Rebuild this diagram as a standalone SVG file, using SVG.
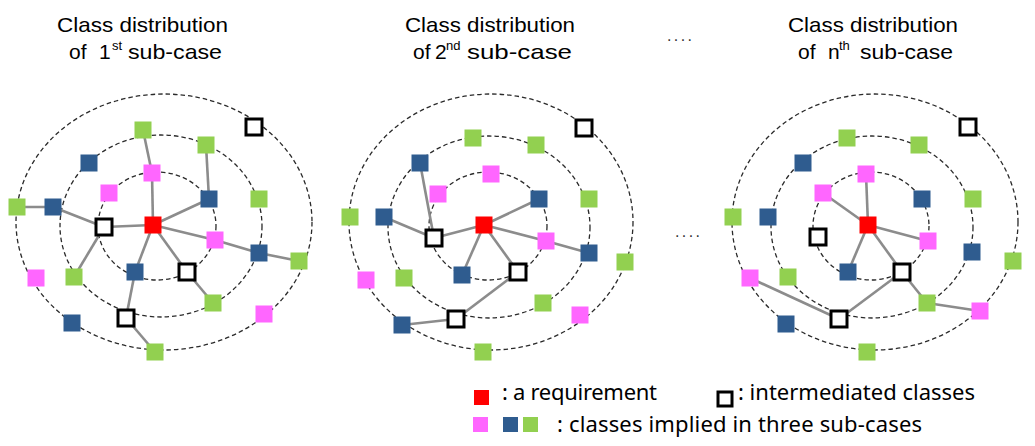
<svg xmlns="http://www.w3.org/2000/svg" width="1035" height="446" viewBox="0 0 1035 446">
  <style>
    .ring { fill: none; stroke: #2a2a2a; stroke-width: 1.3; stroke-dasharray: 4.5 3; }
    .edge { stroke: #8c8c8c; stroke-width: 2.6; fill: none; }
    .req { fill: #ff0000; }
    .pk { fill: #ff66ff; }
    .bl { fill: #2f5c8f; }
    .gr { fill: #92d050; }
    .im { fill: #ffffff; stroke: #000; stroke-width: 3; }
    .title { font-family: "Liberation Sans", Arial, sans-serif; font-size: 21px; fill: #000; }
    .sup { font-family: "Liberation Sans", Arial, sans-serif; font-size: 13px; fill: #000; }
    .legend { font-family: "Noto Sans", "Liberation Sans", sans-serif; font-size: 22px; fill: #000; }
    .dots { font-family: "Liberation Sans", Arial, sans-serif; font-size: 16px; fill: #333; }
  </style>

  <!-- titles -->
  <g id="titles">
    <text class="title" x="57" y="32" textLength="171" lengthAdjust="spacingAndGlyphs">Class distribution</text>
    <text class="title" x="69" y="59">of</text>
    <text class="title" x="99" y="59">1</text>
    <text class="sup" x="112" y="50">st</text>
    <text class="title" x="128" y="59" textLength="94" lengthAdjust="spacingAndGlyphs">sub-case</text>

    <text class="title" x="405" y="32" textLength="170" lengthAdjust="spacingAndGlyphs">Class distribution</text>
    <text class="title" x="413" y="59">of</text>
    <text class="title" x="435" y="59">2</text>
    <text class="sup" x="446" y="50">nd</text>
    <text class="title" x="467" y="59" textLength="105" lengthAdjust="spacingAndGlyphs">sub-case</text>

    <text class="title" x="788" y="32" textLength="170" lengthAdjust="spacingAndGlyphs">Class distribution</text>
    <text class="title" x="798" y="59">of</text>
    <text class="title" x="828" y="59">n</text>
    <text class="sup" x="839" y="50">th</text>
    <text class="title" x="860" y="59" textLength="93" lengthAdjust="spacingAndGlyphs">sub-case</text>

    <text class="dots" x="667" y="41" textLength="25" lengthAdjust="spacing">....</text>
    <text class="dots" x="675" y="237" textLength="25" lengthAdjust="spacing">....</text>
  </g>

  <!-- dashed rings -->
  <g id="rings">
    <ellipse class="ring" cx="164" cy="222" rx="148" ry="128"/>
    <ellipse class="ring" cx="161" cy="226" rx="101" ry="91"/>
    <ellipse class="ring" cx="157" cy="226" rx="59" ry="54"/>

    <ellipse class="ring" cx="491" cy="222" rx="142" ry="128"/>
    <ellipse class="ring" cx="489" cy="227" rx="101" ry="91"/>
    <ellipse class="ring" cx="488" cy="226" rx="59" ry="54"/>

    <ellipse class="ring" cx="875" cy="222" rx="143" ry="128"/>
    <ellipse class="ring" cx="872" cy="227" rx="101" ry="91"/>
    <ellipse class="ring" cx="871" cy="226" rx="58" ry="54"/>
  </g>

  <!-- connectors -->
  <g id="connectors">
    <!-- first sub-case -->
    <line class="edge" x1="143" y1="130" x2="152" y2="173"/>
    <line class="edge" x1="152" y1="173" x2="153" y2="225"/>
    <line class="edge" x1="206" y1="145" x2="209" y2="199"/>
    <line class="edge" x1="209" y1="199" x2="153" y2="225"/>
    <line class="edge" x1="17" y1="207" x2="53" y2="207"/>
    <line class="edge" x1="53" y1="207" x2="104" y2="227"/>
    <line class="edge" x1="104" y1="227" x2="153" y2="225"/>
    <line class="edge" x1="104" y1="227" x2="74" y2="277"/>
    <line class="edge" x1="153" y1="225" x2="215" y2="240"/>
    <line class="edge" x1="215" y1="240" x2="259" y2="253"/>
    <line class="edge" x1="259" y1="253" x2="299" y2="261"/>
    <line class="edge" x1="153" y1="225" x2="135" y2="272"/>
    <line class="edge" x1="153" y1="225" x2="187" y2="272"/>
    <line class="edge" x1="187" y1="272" x2="213" y2="303"/>
    <line class="edge" x1="135" y1="272" x2="126" y2="318"/>
    <line class="edge" x1="126" y1="318" x2="155" y2="352"/>
    <!-- second sub-case -->
    <line class="edge" x1="420" y1="163" x2="434" y2="238"/>
    <line class="edge" x1="384" y1="217" x2="434" y2="238"/>
    <line class="edge" x1="434" y1="238" x2="484" y2="225"/>
    <line class="edge" x1="484" y1="225" x2="539" y2="199"/>
    <line class="edge" x1="484" y1="225" x2="546" y2="241"/>
    <line class="edge" x1="546" y1="241" x2="589" y2="253"/>
    <line class="edge" x1="484" y1="225" x2="462" y2="275"/>
    <line class="edge" x1="484" y1="225" x2="518" y2="272"/>
    <line class="edge" x1="518" y1="272" x2="456" y2="319"/>
    <line class="edge" x1="456" y1="319" x2="402" y2="325"/>
    <!-- nth sub-case -->
    <line class="edge" x1="866" y1="174" x2="868" y2="225"/>
    <line class="edge" x1="823" y1="193" x2="868" y2="225"/>
    <line class="edge" x1="868" y1="225" x2="928" y2="241"/>
    <line class="edge" x1="868" y1="225" x2="848" y2="272"/>
    <line class="edge" x1="868" y1="225" x2="902" y2="272"/>
    <line class="edge" x1="902" y1="272" x2="839" y2="319"/>
    <line class="edge" x1="902" y1="272" x2="927" y2="303"/>
    <line class="edge" x1="927" y1="303" x2="980" y2="311"/>
    <line class="edge" x1="750" y1="278" x2="839" y2="319"/>
  </g>

  <!-- nodes: first sub-case -->
  <g id="case1">
    <g id="c1-n1"><rect class="gr" x="134.5" y="121.5" width="17" height="17"/></g>
    <g id="c1-n2"><rect class="im" x="246" y="119" width="16" height="16"/></g>
    <g id="c1-n3"><rect class="gr" x="197.5" y="136.5" width="17" height="17"/></g>
    <g id="c1-n4"><rect class="bl" x="80.5" y="154.5" width="17" height="17"/></g>
    <g id="c1-n5"><rect class="pk" x="143.5" y="164.5" width="17" height="17"/></g>
    <g id="c1-n6"><rect class="pk" x="100.5" y="184.5" width="17" height="17"/></g>
    <g id="c1-n7"><rect class="bl" x="200.5" y="190.5" width="17" height="17"/></g>
    <g id="c1-n8"><rect class="gr" x="250.5" y="190.5" width="17" height="17"/></g>
    <g id="c1-n9"><rect class="gr" x="8.5" y="198.5" width="17" height="17"/></g>
    <g id="c1-n10"><rect class="bl" x="44.5" y="198.5" width="17" height="17"/></g>
    <g id="c1-req"><rect class="req" x="144.5" y="216.5" width="17" height="17"/></g>
    <g id="c1-n11"><rect class="im" x="96" y="219" width="16" height="16"/></g>
    <g id="c1-n12"><rect class="pk" x="206.5" y="231.5" width="17" height="17"/></g>
    <g id="c1-n13"><rect class="bl" x="250.5" y="244.5" width="17" height="17"/></g>
    <g id="c1-n14"><rect class="gr" x="290.5" y="252.5" width="17" height="17"/></g>
    <g id="c1-n15"><rect class="pk" x="27.5" y="269.5" width="17" height="17"/></g>
    <g id="c1-n16"><rect class="gr" x="65.5" y="268.5" width="17" height="17"/></g>
    <g id="c1-n17"><rect class="bl" x="126.5" y="263.5" width="17" height="17"/></g>
    <g id="c1-n18"><rect class="im" x="179" y="264" width="16" height="16"/></g>
    <g id="c1-n19"><rect class="gr" x="204.5" y="294.5" width="17" height="17"/></g>
    <g id="c1-n20"><rect class="pk" x="255.5" y="305.5" width="17" height="17"/></g>
    <g id="c1-n21"><rect class="bl" x="63.5" y="314.5" width="17" height="17"/></g>
    <g id="c1-n22"><rect class="im" x="118" y="310" width="16" height="16"/></g>
    <g id="c1-n23"><rect class="gr" x="146.5" y="343.5" width="17" height="17"/></g>
  </g>

  <!-- nodes: second sub-case -->
  <g id="case2">
    <g id="c2-n1"><rect class="im" x="576" y="120" width="16" height="16"/></g>
    <g id="c2-n2"><rect class="gr" x="464.5" y="129.5" width="17" height="17"/></g>
    <g id="c2-n3"><rect class="gr" x="527.5" y="136.5" width="17" height="17"/></g>
    <g id="c2-n4"><rect class="bl" x="411.5" y="154.5" width="17" height="17"/></g>
    <g id="c2-n5"><rect class="pk" x="482.5" y="165.5" width="17" height="17"/></g>
    <g id="c2-n6"><rect class="pk" x="429.5" y="185.5" width="17" height="17"/></g>
    <g id="c2-n7"><rect class="bl" x="530.5" y="190.5" width="17" height="17"/></g>
    <g id="c2-n8"><rect class="gr" x="580.5" y="190.5" width="17" height="17"/></g>
    <g id="c2-n9"><rect class="gr" x="341.5" y="208.5" width="17" height="17"/></g>
    <g id="c2-n10"><rect class="bl" x="375.5" y="208.5" width="17" height="17"/></g>
    <g id="c2-req"><rect class="req" x="475.5" y="216.5" width="17" height="17"/></g>
    <g id="c2-n11"><rect class="im" x="426" y="230" width="16" height="16"/></g>
    <g id="c2-n12"><rect class="pk" x="537.5" y="232.5" width="17" height="17"/></g>
    <g id="c2-n13"><rect class="bl" x="580.5" y="244.5" width="17" height="17"/></g>
    <g id="c2-n14"><rect class="gr" x="616.5" y="253.5" width="17" height="17"/></g>
    <g id="c2-n15"><rect class="pk" x="357.5" y="271.5" width="17" height="17"/></g>
    <g id="c2-n16"><rect class="gr" x="395.5" y="269.5" width="17" height="17"/></g>
    <g id="c2-n17"><rect class="bl" x="453.5" y="266.5" width="17" height="17"/></g>
    <g id="c2-n18"><rect class="im" x="510" y="264" width="16" height="16"/></g>
    <g id="c2-n19"><rect class="gr" x="534.5" y="294.5" width="17" height="17"/></g>
    <g id="c2-n20"><rect class="pk" x="571.5" y="306.5" width="17" height="17"/></g>
    <g id="c2-n21"><rect class="bl" x="393.5" y="316.5" width="17" height="17"/></g>
    <g id="c2-n22"><rect class="im" x="448" y="311" width="16" height="16"/></g>
    <g id="c2-n23"><rect class="gr" x="474.5" y="343.5" width="17" height="17"/></g>
  </g>

  <!-- nodes: nth sub-case -->
  <g id="case3">
    <g id="c3-n1"><rect class="im" x="960" y="119" width="16" height="16"/></g>
    <g id="c3-n2"><rect class="gr" x="838.5" y="129.5" width="17" height="17"/></g>
    <g id="c3-n3"><rect class="gr" x="910.5" y="136.5" width="17" height="17"/></g>
    <g id="c3-n4"><rect class="bl" x="794.5" y="154.5" width="17" height="17"/></g>
    <g id="c3-n5"><rect class="pk" x="857.5" y="165.5" width="17" height="17"/></g>
    <g id="c3-n6"><rect class="pk" x="814.5" y="184.5" width="17" height="17"/></g>
    <g id="c3-n7"><rect class="bl" x="913.5" y="190.5" width="17" height="17"/></g>
    <g id="c3-n8"><rect class="gr" x="964.5" y="190.5" width="17" height="17"/></g>
    <g id="c3-n9"><rect class="gr" x="724.5" y="208.5" width="17" height="17"/></g>
    <g id="c3-n10"><rect class="bl" x="759.5" y="208.5" width="17" height="17"/></g>
    <g id="c3-req"><rect class="req" x="859.5" y="216.5" width="17" height="17"/></g>
    <g id="c3-n11"><rect class="im" x="810" y="229" width="16" height="16"/></g>
    <g id="c3-n12"><rect class="pk" x="919.5" y="232.5" width="17" height="17"/></g>
    <g id="c3-n13"><rect class="bl" x="963.5" y="243.5" width="17" height="17"/></g>
    <g id="c3-n14"><rect class="gr" x="1004.5" y="252.5" width="17" height="17"/></g>
    <g id="c3-n15"><rect class="pk" x="741.5" y="269.5" width="17" height="17"/></g>
    <g id="c3-n16"><rect class="gr" x="779.5" y="268.5" width="17" height="17"/></g>
    <g id="c3-n17"><rect class="bl" x="839.5" y="263.5" width="17" height="17"/></g>
    <g id="c3-n18"><rect class="im" x="894" y="264" width="16" height="16"/></g>
    <g id="c3-n19"><rect class="gr" x="918.5" y="294.5" width="17" height="17"/></g>
    <g id="c3-n20"><rect class="pk" x="971.5" y="302.5" width="17" height="17"/></g>
    <g id="c3-n21"><rect class="bl" x="777.5" y="315.5" width="17" height="17"/></g>
    <g id="c3-n22"><rect class="im" x="831" y="311" width="16" height="16"/></g>
    <g id="c3-n23"><rect class="gr" x="858.5" y="343.5" width="17" height="17"/></g>
  </g>

  <!-- legend -->
  <g id="legend">
    <rect class="req" x="474" y="390" width="15" height="15"/>
    <text class="legend" x="502" y="400" textLength="155" lengthAdjust="spacing">: a requirement</text>
    <rect class="im" x="718" y="392" width="14" height="14"/>
    <text class="legend" x="738" y="400" textLength="237" lengthAdjust="spacing">: intermediated  classes</text>
    <rect class="pk" x="473" y="417" width="15" height="15"/>
    <rect class="bl" x="503" y="417" width="15" height="15"/>
    <rect class="gr" x="523" y="417" width="15" height="15"/>
    <text class="legend" x="557" y="432" textLength="365" lengthAdjust="spacing">: classes  implied  in three sub-cases</text>
  </g>
</svg>
